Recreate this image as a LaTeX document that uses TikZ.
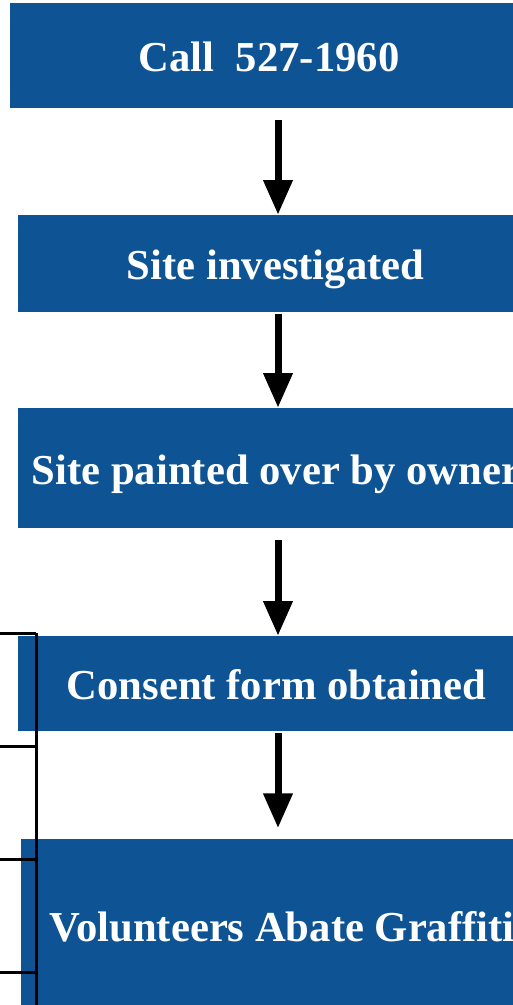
\documentclass[tikz,border=0pt]{standalone}
\usepackage{fontspec}
\setmainfont{Liberation Serif}
\usepackage{tikz}
\usetikzlibrary{arrows.meta}

\definecolor{boxblue}{RGB}{14,83,148}

\begin{document}
\begin{tikzpicture}[x=0.75pt, y=-0.75pt,
        stagebox/.style = {fill=boxblue, text=white, inner sep=0pt, text height=24pt, text depth=0pt, font={\fontsize{32}{38}\selectfont\bfseries}},
        flowarrow/.style = {line width=5.25pt, -{Triangle[length=26pt, width=21pt]}}]
        \useasboundingbox (0, 0) rectangle (513, 1005);
        \clip (0, 0) rectangle (513, 1005);

        \node[stagebox, minimum width=388.5pt, minimum height=78.75pt] (call) at (269, 55.5) {Call\ \ 527-1960};
        \node[stagebox, minimum width=386.25pt, minimum height=72.75pt] (site) at (275.5, 263.5) {Site investigated};
        \node[stagebox, minimum width=387pt, minimum height=90pt] (paint) at (276, 468) {Site painted over by owner};
        \node[stagebox, minimum width=387.75pt, minimum height=71.25pt] (consent) at (276.5, 683.5) {Consent form obtained};
        \node[stagebox, minimum width=391.5pt, minimum height=129pt] (abate) at (282, 925) {Volunteers Abate Graffiti};

        \coordinate (ax) at (278, 0);
        \draw[flowarrow, shorten <=9pt] (call.south -| ax) -- (site.north -| ax);
        \draw[flowarrow, shorten <=1pt] (site.south -| ax) -- (paint.north -| ax);
        \draw[flowarrow, shorten <=9pt] (paint.south -| ax) -- (consent.north -| ax);
        \draw[flowarrow, shorten <=1.5pt, shorten >=8pt] (consent.south -| ax) -- (abate.north -| ax);

        % bracket on the left
        \draw[line width=2.25pt] (36, 633) -- (36, 1010);
        \foreach \y in {633, 746, 859, 972}
            \draw[line width=2.25pt] (-5, \y) -- (36, \y);
    \end{tikzpicture}
\end{document}
